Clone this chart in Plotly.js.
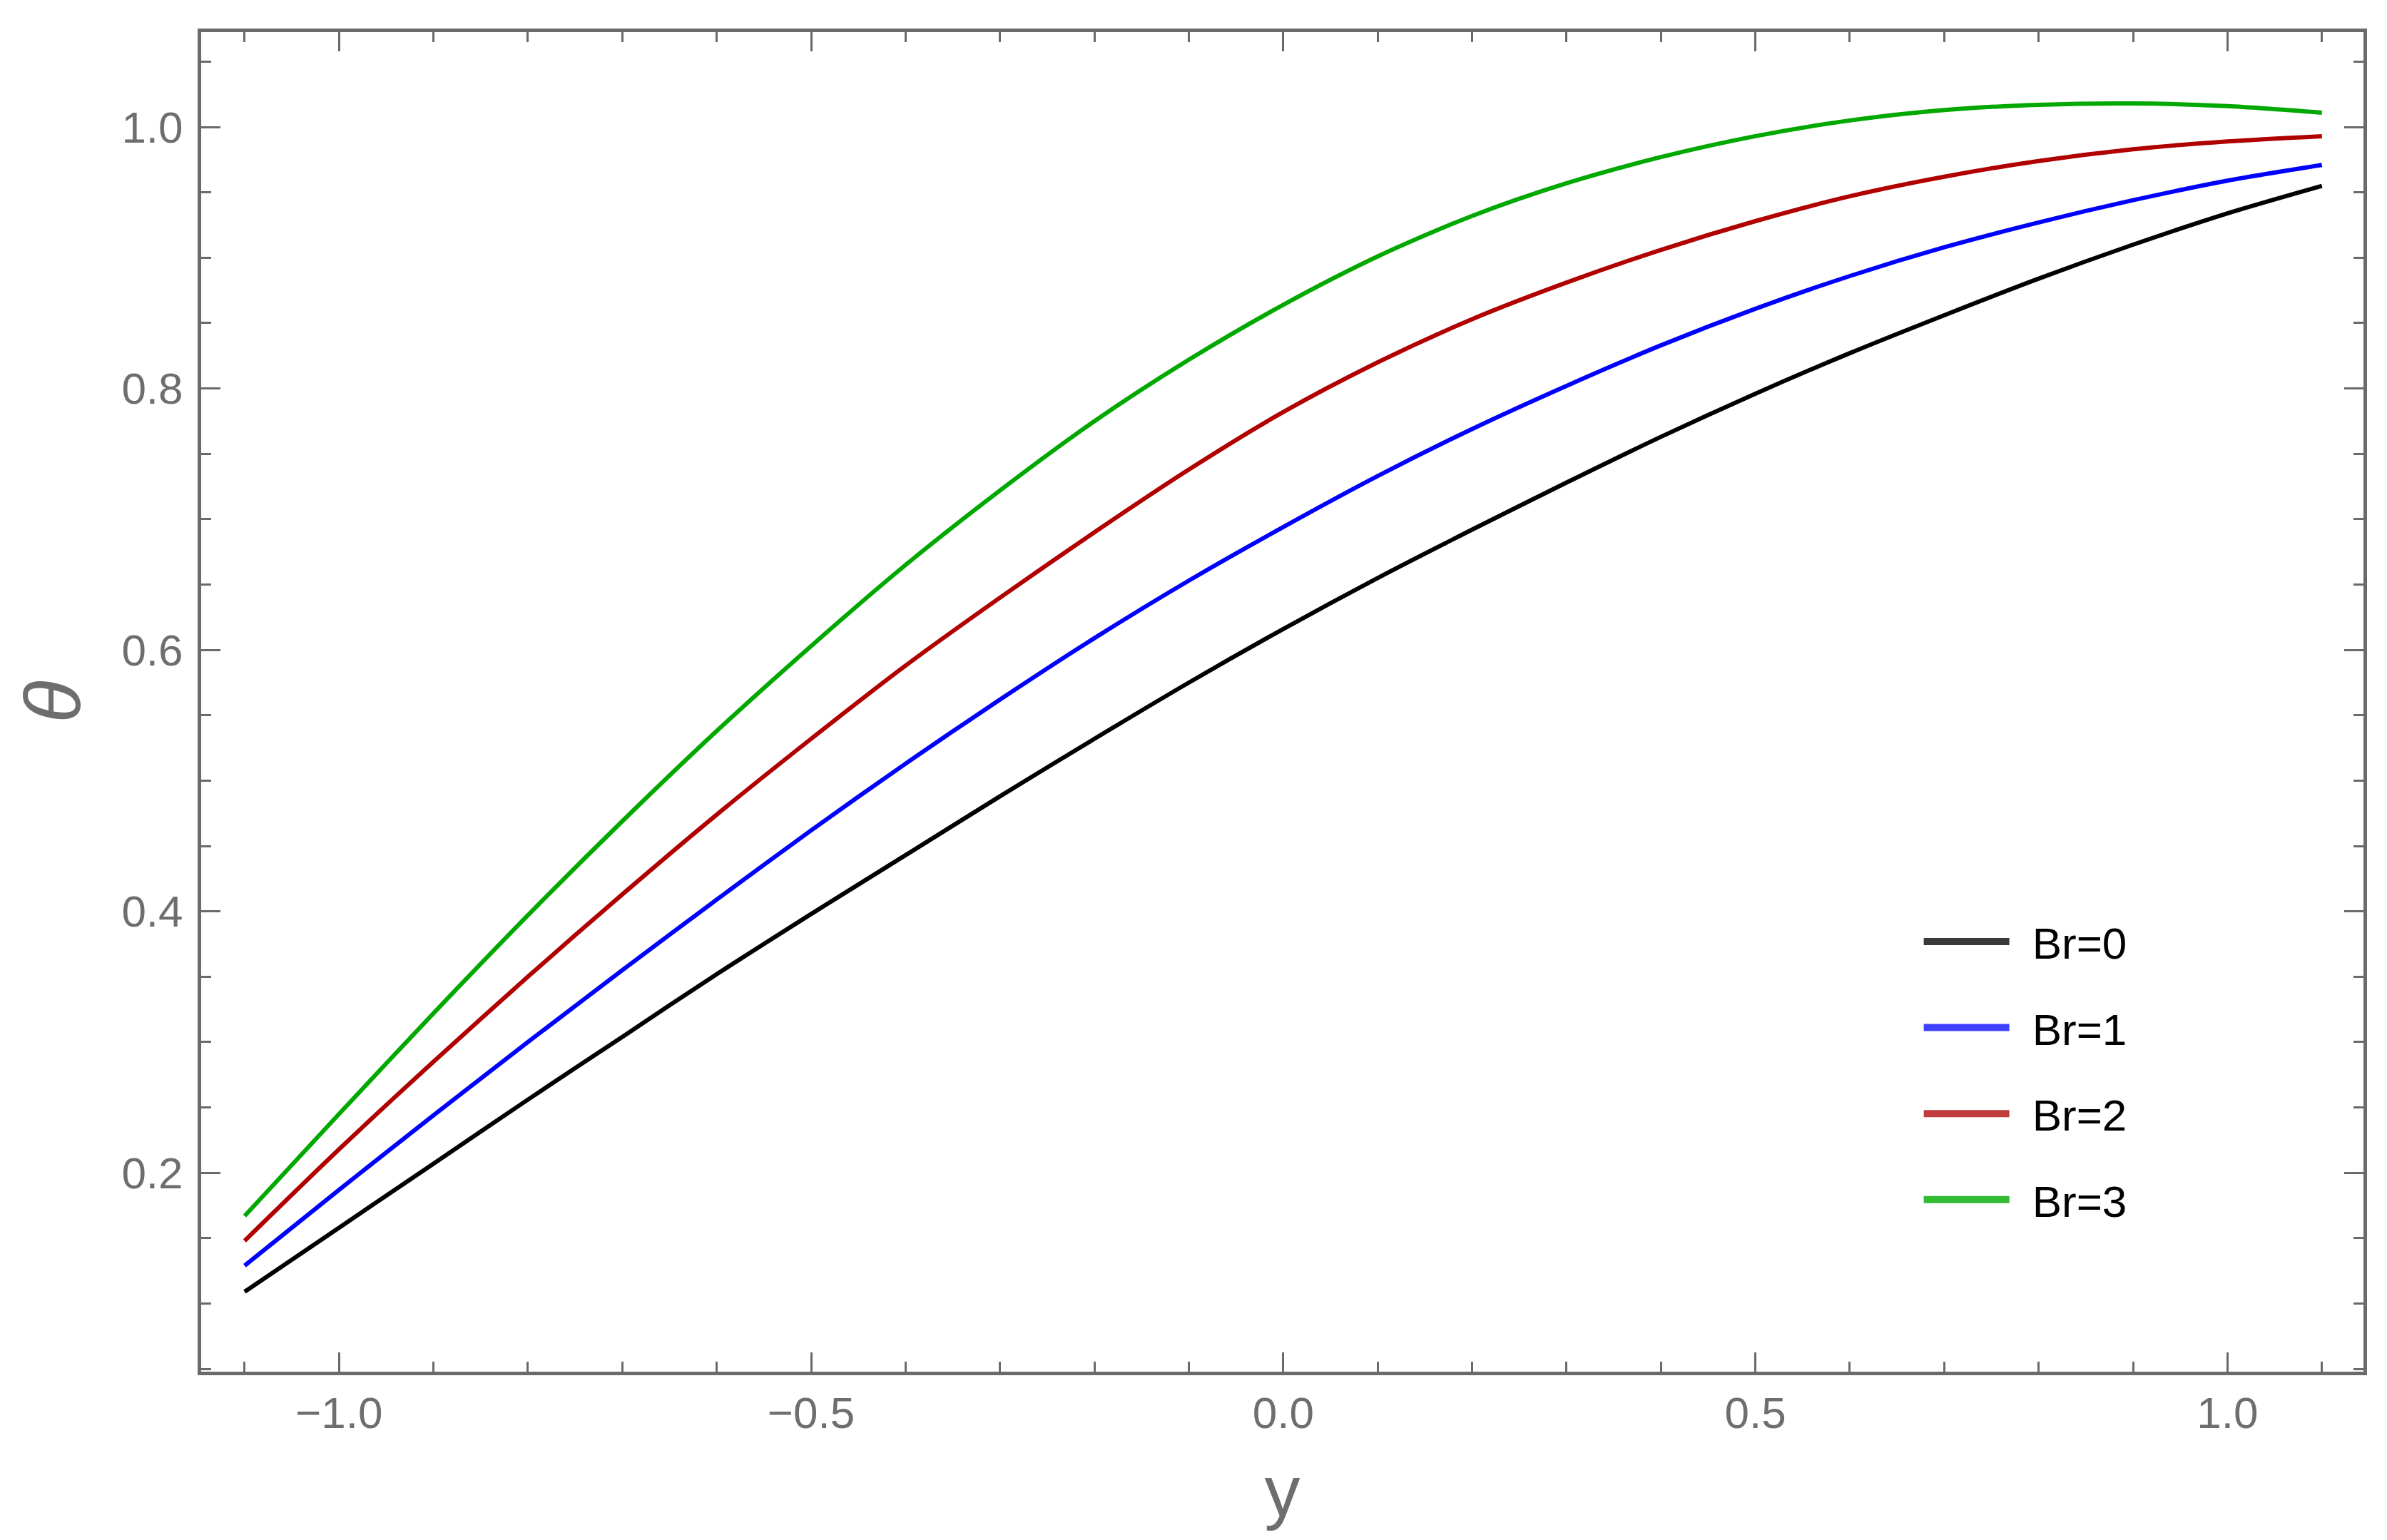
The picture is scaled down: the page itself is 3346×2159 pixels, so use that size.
<!DOCTYPE html>
<html>
<head>
<meta charset="utf-8">
<script src="https://cdn.plot.ly/plotly-3.0.1.min.js"></script>
<style>
html,body{margin:0;padding:0;background:#ffffff;}
#chart{width:3346px;height:2159px;}
</style>
</head>
<body>
<div id="chart"></div>
<script>
// ---- data ----
const yPos = [-1.1,-1.0,-0.9,-0.8,-0.7,-0.6,-0.5,-0.4,-0.3,-0.2,-0.1,0.0,0.1,0.2,0.3,0.4,0.5,0.6,0.7,0.8,0.9,1.0,1.1];
const thetaBr0 = [0.109,0.158,0.207,0.256,0.304,0.352,0.398,0.443,0.488,0.532,0.575,0.616,0.655,0.692,0.728,0.763,0.796,0.827,0.856,0.884,0.910,0.934,0.955];
const thetaBr1 = [0.129,0.187,0.244,0.300,0.355,0.409,0.462,0.513,0.562,0.609,0.653,0.694,0.733,0.769,0.802,0.833,0.861,0.886,0.908,0.927,0.944,0.959,0.971];
const thetaBr2 = [0.148,0.218,0.285,0.350,0.413,0.474,0.532,0.588,0.640,0.690,0.738,0.782,0.820,0.853,0.881,0.906,0.928,0.947,0.962,0.974,0.983,0.989,0.993];
const thetaBr3 = [0.167,0.245,0.322,0.397,0.469,0.538,0.603,0.665,0.722,0.775,0.822,0.864,0.901,0.932,0.957,0.977,0.993,1.005,1.013,1.017,1.018,1.016,1.011];
const seriesNames = ['Br=0','Br=1','Br=2','Br=3'];
const xTitle = 'y';
const yTitle = '<i>θ</i>';

// ---- styles ----
const curveColors  = ['#000000','#0000ff','#b00000','#00a800'];
const legendColors = ['#3a3a3a','#4040ff','#c03c3c','#33bb33'];
const frameColor = '#6a6a6a';
const labelColor = '#6e6e6e';
const fontFamily = 'Liberation Sans, Arial, sans-serif';
const series = [thetaBr0, thetaBr1, thetaBr2, thetaBr3];

const traces = [];
series.forEach((vals, i) => {
  traces.push({
    type: 'scatter', mode: 'lines', x: yPos, y: vals,
    line: {color: curveColors[i], width: 6, shape: 'spline', smoothing: 0.8},
    showlegend: false, hoverinfo: 'skip'
  });
});
series.forEach((vals, i) => {
  traces.push({
    type: 'scatter', mode: 'lines', x: [null], y: [null],
    name: seriesNames[i], legendgroup: 'g' + i,
    line: {color: legendColors[i], width: 12},
    showlegend: true
  });
});

const axisCommon = {
  showline: true, linecolor: frameColor, linewidth: 5, mirror: 'allticks',
  ticks: 'inside', ticklen: 27, tickwidth: 3, tickcolor: frameColor,
  showgrid: false, zeroline: false,
  tickfont: {family: fontFamily, size: 62, color: labelColor},
  tickformat: '.1f'
};

const layout = {
  width: 3346, height: 2159,
  paper_bgcolor: '#ffffff', plot_bgcolor: '#ffffff',
  margin: {l: 282, r: 33, t: 45, b: 236, pad: 0},
  font: {family: fontFamily, color: labelColor},
  xaxis: Object.assign({}, axisCommon, {
    range: [-1.146, 1.144], tick0: 0, dtick: 0.5,
    minor: {ticks: 'inside', tick0: 0, dtick: 0.1, ticklen: 14, tickwidth: 3, tickcolor: frameColor, showgrid: false},
    title: {text: xTitle, font: {family: fontFamily, size: 100, color: labelColor}, standoff: 42}
  }),
  yaxis: Object.assign({}, axisCommon, {
    range: [0.0479, 1.0726], tick0: 0, dtick: 0.2,
    ticklabelstandoff: 8,
    minor: {ticks: 'inside', tick0: 0, dtick: 0.05, ticklen: 14, tickwidth: 3, tickcolor: frameColor, showgrid: false},
    title: {text: yTitle, font: {family: fontFamily, size: 110, color: labelColor}, standoff: 22}
  }),
  showlegend: true,
  legend: {
    x: 0.795, y: 0.346, xanchor: 'left', yanchor: 'top',
    bgcolor: 'rgba(0,0,0,0)', borderwidth: 0,
    font: {family: fontFamily, size: 62, color: '#000000'},
    itemwidth: 120, traceorder: 'grouped', tracegroupgap: 37
  }
};

Plotly.newPlot('chart', traces, layout, {staticPlot: true, displayModeBar: false}).then(function (gd) {
  // open a gap between each legend line sample and its label, as in the reference
  gd.querySelectorAll('g.legend [clip-path]').forEach(function (el) {
    el.removeAttribute('clip-path');
  });
  gd.querySelectorAll('g.legend text.legendtext').forEach(function (t) {
    const x = parseFloat(t.getAttribute('x')) || 0;
    t.setAttribute('x', x + 27);
  });
});
</script>
</body>
</html>
